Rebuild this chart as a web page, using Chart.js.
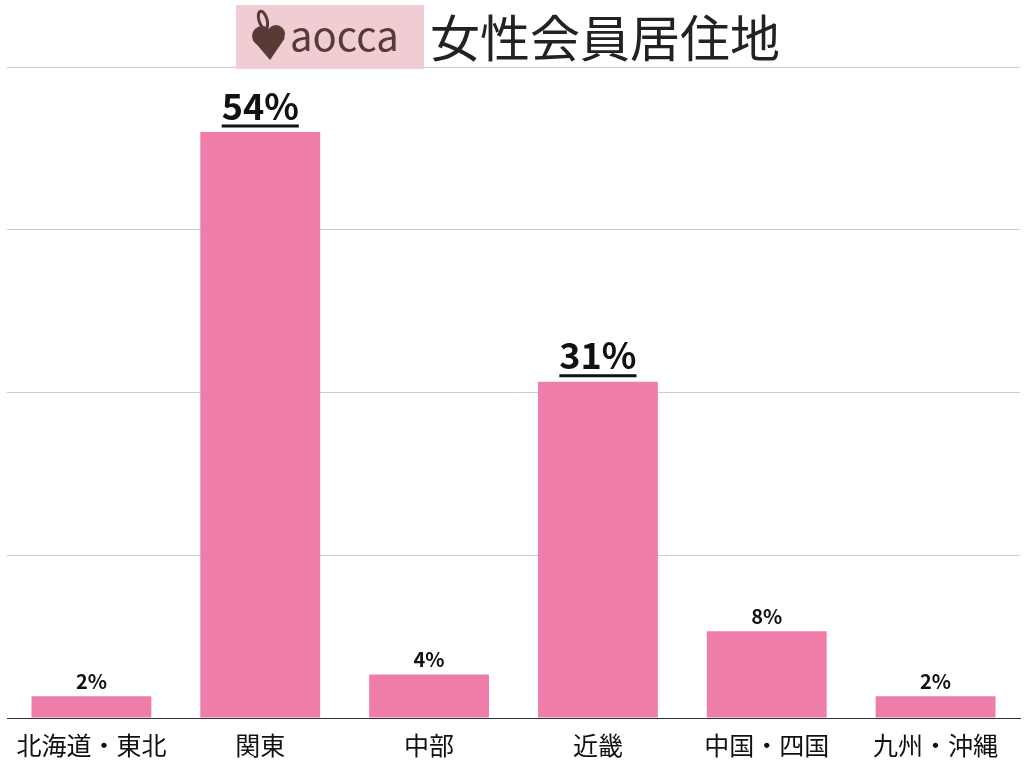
<!DOCTYPE html>
<html>
<head>
<meta charset="utf-8">
<script src="https://cdn.jsdelivr.net/npm/chart.js@4"></script>
<style>
  html, body { margin: 0; background: #fff; }
  #wrap { width: 1024px; height: 769px; }
</style>
</head>
<body>
<div id="wrap"><canvas id="c"></canvas></div>
<script>
'use strict';

const regions = ['北海道・東北', '関東', '中部', '近畿', '中国・四国', '九州・沖縄'];
const shares = [2, 54, 4, 31, 8, 2];
const highlighted = [false, true, false, true, false, false];
const chartTitle = '女性会員居住地';
const brand = 'aocca';

const FONT = '"Noto Sans CJK JP", "Noto Sans", sans-serif';

const headerPlugin = {
  id: 'header',
  afterDraw(chart) {
    const ctx = chart.ctx;
    ctx.save();
    // brand box
    ctx.fillStyle = '#f0cdd3';
    ctx.fillRect(236, 5, 188, 64);
    // rabbit-ish heart mark
    ctx.fillStyle = '#5a3a36';
    ctx.beginPath();
    ctx.arc(262, 36, 10, 0, Math.PI * 2);
    ctx.arc(276, 34, 9, 0, Math.PI * 2);
    ctx.fill();
    ctx.beginPath();
    ctx.moveTo(253, 40);
    ctx.lineTo(270, 60);
    ctx.lineTo(285, 38);
    ctx.fill();
    ctx.lineWidth = 3;
    ctx.strokeStyle = '#5a3a36';
    ctx.beginPath();
    ctx.ellipse(263, 20, 4, 9, -0.3, 0, Math.PI * 2);
    ctx.stroke();
    ctx.font = '40px ' + FONT;
    ctx.textBaseline = 'middle';
    ctx.fillText(brand, 290, 36);
    ctx.fillStyle = '#222';
    ctx.font = '50px ' + FONT;
    ctx.fillText(chartTitle, 430, 38);
    ctx.restore();
  },
};

const valueLabels = {
  id: 'valueLabels',
  afterDatasetsDraw(chart) {
    const ctx = chart.ctx;
    const meta = chart.getDatasetMeta(0);
    ctx.save();
    ctx.fillStyle = '#111';
    ctx.strokeStyle = '#111';
    ctx.textAlign = 'center';
    ctx.textBaseline = 'bottom';
    meta.data.forEach((bar, i) => {
      const text = shares[i] + '%';
      const big = highlighted[i];
      ctx.font = 'bold ' + (big ? 36 : 20) + 'px ' + FONT;
      const y = bar.y - (big ? 8 : 5);
      ctx.fillText(text, bar.x, y);
      if (big) {
        const w = ctx.measureText(text).width;
        ctx.lineWidth = 3;
        ctx.beginPath();
        ctx.moveTo(bar.x - w / 2, y + 2);
        ctx.lineTo(bar.x + w / 2, y + 2);
        ctx.stroke();
      }
    });
    ctx.restore();
  },
};

new Chart(document.getElementById('c'), {
  type: 'bar',
  data: {
    labels: regions,
    datasets: [{
      data: shares,
      backgroundColor: '#ef7daa',
      categoryPercentage: 1,
      barPercentage: 0.71,
    }],
  },
  options: {
    responsive: true,
    maintainAspectRatio: false,
    animation: false,
    layout: { padding: { top: 67, left: 7, right: 4, bottom: 5 } },
    plugins: { legend: { display: false }, tooltip: { enabled: false } },
    scales: {
      y: {
        min: 0, max: 60,
        ticks: { stepSize: 15, display: false },
        border: { display: false },
        grid: { color: '#cccccc', lineWidth: 1, drawTicks: false },
      },
      x: {
        grid: { display: false },
        border: { color: '#333', width: 1 },
        ticks: { color: '#111', font: { family: FONT, size: 25 }, padding: 4, maxRotation: 0, autoSkip: false },
      },
    },
  },
  plugins: [headerPlugin, valueLabels],
});
</script>
</body>
</html>
